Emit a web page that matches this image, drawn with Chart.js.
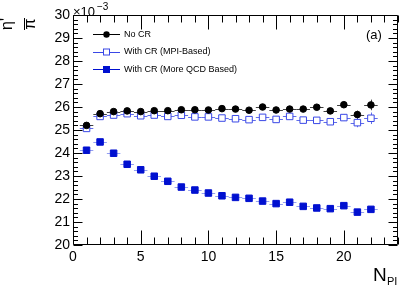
<!DOCTYPE html>
<html>
<head>
<meta charset="utf-8">
<script src="https://cdn.jsdelivr.net/npm/chart.js@4/dist/chart.umd.min.js"></script>
<style>
html,body{margin:0;padding:0;background:#fff;}
#wrap{width:407px;height:293px;position:relative;}
</style>
</head>
<body>
<div id="wrap"><canvas id="c" width="407" height="293"></canvas></div>
<script>
// N_PI bins
const nPI = [1,2,3,4,5,6,7,8,9,10,11,12,13,14,15,16,17,18,19,20,21,22];
// eta'/pi ratio, in units of 1e-3
const noCR = [25.20,25.71,25.80,25.83,25.80,25.84,25.84,25.88,25.88,25.87,25.93,25.91,25.86,26.00,25.87,25.91,25.91,25.99,25.83,26.10,25.67,26.09];
const noCRErr = [0.05,0.04,0.04,0.04,0.04,0.04,0.04,0.04,0.04,0.04,0.04,0.04,0.05,0.05,0.05,0.05,0.06,0.06,0.08,0.13,0.17,0.23];
const mpiCR = [25.07,25.59,25.65,25.71,25.62,25.65,25.59,25.64,25.57,25.57,25.52,25.49,25.45,25.55,25.46,25.59,25.43,25.42,25.36,25.54,25.32,25.51];
const mpiCRErr = [0.05,0.04,0.04,0.04,0.04,0.04,0.04,0.04,0.04,0.04,0.04,0.04,0.05,0.05,0.05,0.05,0.06,0.06,0.07,0.13,0.20,0.25];
const qcdCR = [24.12,24.48,23.99,23.51,23.27,22.99,22.77,22.52,22.39,22.26,22.14,22.07,22.03,21.91,21.80,21.86,21.68,21.61,21.58,21.71,21.43,21.55];
const qcdCRErr = [0.04,0.04,0.04,0.04,0.04,0.04,0.04,0.04,0.04,0.04,0.04,0.04,0.04,0.04,0.04,0.04,0.05,0.05,0.05,0.06,0.06,0.07];
const seriesNames = ["No CR","With CR (MPI-Based)","With CR (More QCD Based)"];
const xTicks = [0,5,10,15,20];
const yTicks = [20,21,22,23,24,25,26,27,28,29,30];
const xHalfWidth = 0.5;

const FONT = "'Liberation Sans', Arial, Helvetica, sans-serif";
const colBlack = '#000000';
const colOpen = '#3a48e6';
const colFilled = '#0010d0';

function pts(v){ return nPI.map((x,i)=>({x:x,y:v[i]})); }

const errs = [noCRErr, mpiCRErr, qcdCRErr];

const errorBarPlugin = {
  id:'errbars',
  beforeDatasetsDraw(chart){
    const ctx = chart.ctx, xs = chart.scales.x, ys = chart.scales.y;
    ctx.save();
    chart.data.datasets.forEach((ds,di)=>{
      ctx.strokeStyle = ds.errColor;
      ctx.lineWidth = 1;
      ds.data.forEach((p,i)=>{
        const px = xs.getPixelForValue(p.x), py = ys.getPixelForValue(p.y);
        const x0 = xs.getPixelForValue(p.x - xHalfWidth), x1 = xs.getPixelForValue(p.x + xHalfWidth);
        const e = errs[di][i];
        const y0 = ys.getPixelForValue(p.y - e), y1 = ys.getPixelForValue(p.y + e);
        ctx.beginPath();
        ctx.moveTo(x0, Math.round(py)+0.5); ctx.lineTo(x1, Math.round(py)+0.5);
        ctx.moveTo(Math.round(px)+0.5, y0); ctx.lineTo(Math.round(px)+0.5, y1);
        ctx.stroke();
      });
    });
    ctx.restore();
  }
};

const framePlugin = {
  id:'frame',
  afterDatasetsDraw(chart){
    const ctx = chart.ctx, a = chart.chartArea, xs = chart.scales.x, ys = chart.scales.y;
    ctx.save();
    ctx.strokeStyle = '#000';
    ctx.lineWidth = 1;
    const L = Math.round(a.left)+0.5, R = Math.round(a.right)-0.5, T = Math.round(a.top)+0.5, B = Math.round(a.bottom)-0.5;
    ctx.beginPath();
    ctx.rect(L, T, R-L, B-T);
    // x ticks (bottom + top)
    for(let v=0; v<=24; v+=1){
      const px = Math.round(xs.getPixelForValue(v))+0.5;
      const len = (v%5===0)?14:7;
      ctx.moveTo(px,B); ctx.lineTo(px,B-len);
      ctx.moveTo(px,T); ctx.lineTo(px,T+len);
    }
    // y ticks (left + right)
    for(let k=0; k<=50; k++){
      const v = 20 + k*0.2;
      const py = Math.round(ys.getPixelForValue(v))+0.5;
      const len = (k%5===0)?9:4.5;
      ctx.moveTo(L,py); ctx.lineTo(L+len,py);
      ctx.moveTo(R,py); ctx.lineTo(R-len,py);
    }
    ctx.stroke();

    // legend
    const items = [
      {name:seriesNames[0], color:colBlack, style:'circle', fill:colBlack, y:34},
      {name:seriesNames[1], color:colOpen, style:'rect', fill:'#ffffff', y:51.5},
      {name:seriesNames[2], color:colFilled, style:'rect', fill:colFilled, y:69}
    ];
    ctx.font = '9px ' + FONT;
    ctx.textBaseline = 'middle';
    ctx.textAlign = 'left';
    items.forEach(it=>{
      ctx.strokeStyle = it.color; ctx.lineWidth = 1;
      ctx.beginPath(); ctx.moveTo(93, Math.round(it.y)+0.5); ctx.lineTo(120, Math.round(it.y)+0.5); ctx.stroke();
      ctx.beginPath();
      if(it.style==='circle'){ ctx.arc(106.5, it.y+0.5, 3.2, 0, Math.PI*2); ctx.fillStyle=it.fill; ctx.fill(); }
      else { ctx.fillStyle=it.fill; ctx.fillRect(103.5, it.y-2.5, 6, 6); ctx.strokeRect(103.5, it.y-2.5, 6, 6); }
      ctx.fillStyle = '#000';
      ctx.fillText(it.name, 124, it.y+0.5);
    });

    // exponent label
    ctx.fillStyle = '#000';
    ctx.textBaseline = 'alphabetic';
    ctx.font = '13px ' + FONT;
    ctx.fillText('\u00d710', 73, 16);
    ctx.font = '10px ' + FONT;
    ctx.fillText('\u22123', 97, 10);

    // (a)
    ctx.font = '13px ' + FONT;
    ctx.fillText('(a)', 366, 39);

    // x title N_PI
    ctx.font = '19px ' + FONT;
    ctx.fillText('N', 373, 281);
    ctx.font = '11px ' + FONT;
    ctx.fillText('PI', 387, 285);

    // y title eta'/pi fraction, rotated
    ctx.save();
    ctx.translate(20, 24);
    ctx.rotate(-Math.PI/2);
    ctx.textAlign = 'center';
    ctx.textBaseline = 'middle';
    ctx.font = '16px ' + FONT;
    ctx.fillText("\u03b7'", 0, -12);
    ctx.fillText('\u03c0', 0, 11);
    ctx.beginPath(); ctx.moveTo(-6, 4.5); ctx.lineTo(6, 4.5); ctx.lineWidth=1; ctx.strokeStyle='#000'; ctx.stroke();
    ctx.restore();

    ctx.restore();
  }
};

new Chart(document.getElementById('c'), {
  type:'scatter',
  data:{
    datasets:[
      {label:seriesNames[0], data:pts(noCR), pointStyle:'circle', pointRadius:3.3, backgroundColor:colBlack, borderColor:colBlack, borderWidth:1, errColor:'rgba(0,0,0,0.75)'},
      {label:seriesNames[1], data:pts(mpiCR), pointStyle:'rect', pointRadius:4.6, backgroundColor:'#ffffff', borderColor:colOpen, borderWidth:1, errColor:'rgba(58,72,230,0.8)'},
      {label:seriesNames[2], data:pts(qcdCR), pointStyle:'rect', pointRadius:4.6, backgroundColor:colFilled, borderColor:colFilled, borderWidth:1, errColor:'rgba(60,80,230,0.55)'}
    ]
  },
  options:{
    responsive:false,
    animation:false,
    events:[],
    layout:{padding:{top:15,right:9,left:0,bottom:0}},
    plugins:{legend:{display:false}, tooltip:{enabled:false}},
    scales:{
      x:{
        type:'linear', min:0, max:24,
        grid:{display:false, drawTicks:false},
        border:{display:false},
        afterFit(s){ s.height = 48; },
        afterBuildTicks(s){ s.ticks = xTicks.map(v=>({value:v})); },
        ticks:{font:{family:FONT,size:14}, color:'#000', padding:4, maxRotation:0}
      },
      y:{
        type:'linear', min:20, max:30,
        grid:{display:false, drawTicks:false},
        border:{display:false},
        afterFit(s){ s.width = 73; },
        afterBuildTicks(s){ s.ticks = yTicks.map(v=>({value:v})); },
        ticks:{font:{family:FONT,size:14}, color:'#000', padding:3}
      }
    }
  },
  plugins:[errorBarPlugin, framePlugin]
});
</script>
</body>
</html>
